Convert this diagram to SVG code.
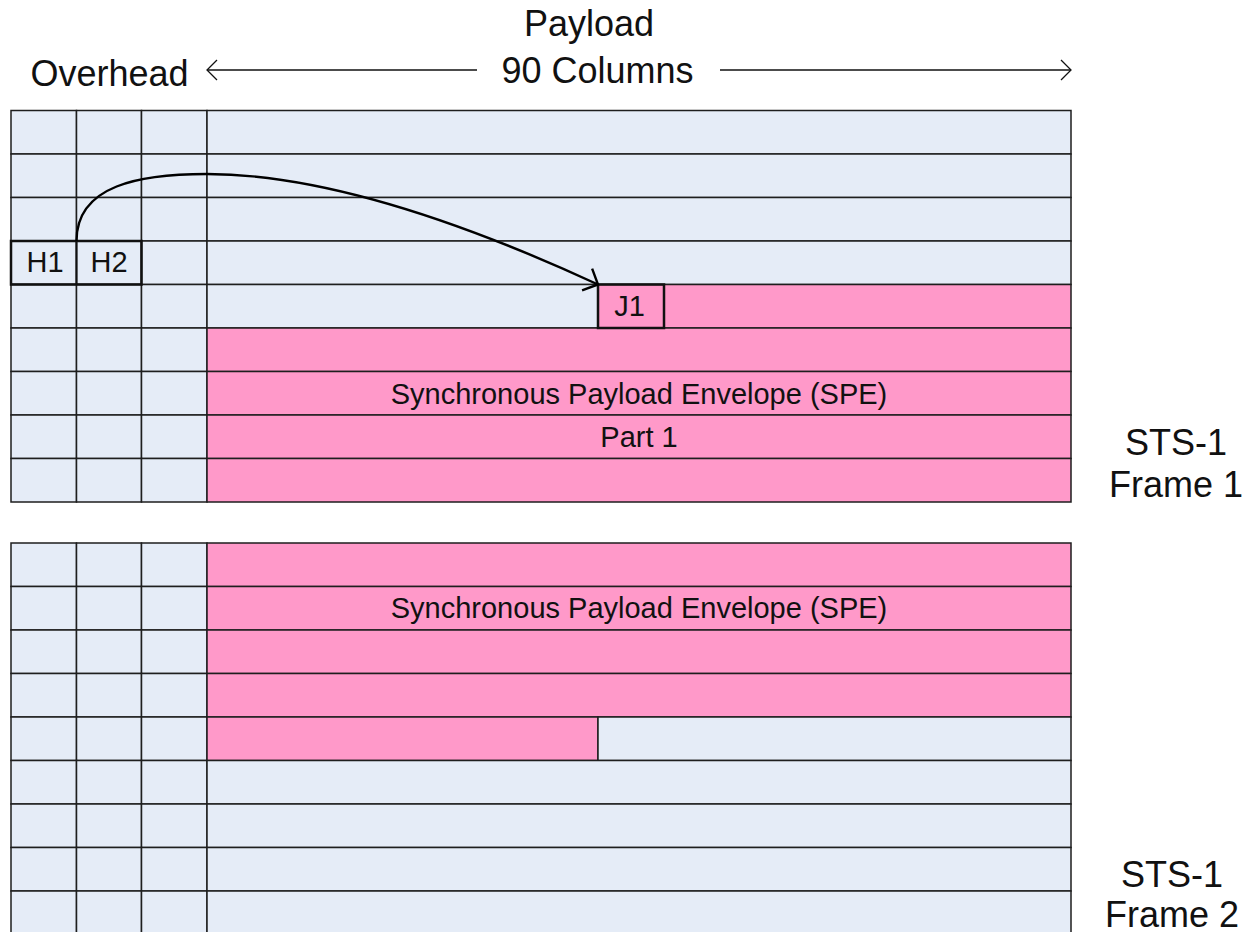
<svg xmlns="http://www.w3.org/2000/svg" width="1246" height="932" viewBox="0 0 1246 932">
  <style>
    .oh { fill: #E5ECF7; stroke: #1e1e1e; stroke-width: 1.5; }
    .pl { fill: #E5ECF7; stroke: #1e1e1e; stroke-width: 1.5; }
    .spe { fill: #FF99C9; stroke: #1e1e1e; stroke-width: 1.5; }
    .box { fill: none; stroke: #111; stroke-width: 2.5; }
    .txt { font-family: "Liberation Sans", Arial, sans-serif; fill: #111; }
    .small { font-size: 29px; }
    .big { font-size: 36px; }
    .mid { text-anchor: middle; }
    .thin { fill: none; stroke: #111; stroke-width: 1.3; }
    .ptr { fill: none; stroke: #000; stroke-width: 2.4; }
  </style>
  <defs>
    <marker id="openHead" viewBox="-14 -14 16 28" markerWidth="16" markerHeight="28" refX="0" refY="0" orient="auto" markerUnits="userSpaceOnUse">
      <path d="M -12 -12 L 0 0 L -12 12" fill="none" stroke="#000" stroke-width="2.4"/>
    </marker>
    <marker id="thinHead" viewBox="-12 -12 14 24" markerWidth="14" markerHeight="24" refX="0" refY="0" orient="auto" markerUnits="userSpaceOnUse">
      <path d="M -10 -10 L 0 0 L -10 10" fill="none" stroke="#111" stroke-width="1.3"/>
    </marker>
  </defs>

  <rect width="1246" height="932" fill="#fff"/>

  <!-- STS-1 frame 1: 3 overhead columns + payload, 9 rows -->
  <g id="frame1">
    <g id="frame1-overhead">
      <rect class="oh" x="11" y="110.5" width="65.5" height="43.5"/><rect class="oh" x="76.5" y="110.5" width="65" height="43.5"/><rect class="oh" x="141.5" y="110.5" width="65.5" height="43.5"/>
      <rect class="oh" x="11" y="154" width="65.5" height="43.5"/><rect class="oh" x="76.5" y="154" width="65" height="43.5"/><rect class="oh" x="141.5" y="154" width="65.5" height="43.5"/>
      <rect class="oh" x="11" y="197.5" width="65.5" height="43.5"/><rect class="oh" x="76.5" y="197.5" width="65" height="43.5"/><rect class="oh" x="141.5" y="197.5" width="65.5" height="43.5"/>
      <rect class="oh" x="11" y="241" width="65.5" height="43.5"/><rect class="oh" x="76.5" y="241" width="65" height="43.5"/><rect class="oh" x="141.5" y="241" width="65.5" height="43.5"/>
      <rect class="oh" x="11" y="284.5" width="65.5" height="43.5"/><rect class="oh" x="76.5" y="284.5" width="65" height="43.5"/><rect class="oh" x="141.5" y="284.5" width="65.5" height="43.5"/>
      <rect class="oh" x="11" y="328" width="65.5" height="43.5"/><rect class="oh" x="76.5" y="328" width="65" height="43.5"/><rect class="oh" x="141.5" y="328" width="65.5" height="43.5"/>
      <rect class="oh" x="11" y="371.5" width="65.5" height="43.5"/><rect class="oh" x="76.5" y="371.5" width="65" height="43.5"/><rect class="oh" x="141.5" y="371.5" width="65.5" height="43.5"/>
      <rect class="oh" x="11" y="415" width="65.5" height="43.5"/><rect class="oh" x="76.5" y="415" width="65" height="43.5"/><rect class="oh" x="141.5" y="415" width="65.5" height="43.5"/>
      <rect class="oh" x="11" y="458.5" width="65.5" height="43.5"/><rect class="oh" x="76.5" y="458.5" width="65" height="43.5"/><rect class="oh" x="141.5" y="458.5" width="65.5" height="43.5"/>
    </g>
    <g id="frame1-payload">
      <rect class="pl" x="207" y="110.5" width="864" height="43.5"/>
      <rect class="pl" x="207" y="154" width="864" height="43.5"/>
      <rect class="pl" x="207" y="197.5" width="864" height="43.5"/>
      <rect class="pl" x="207" y="241" width="864" height="43.5"/>
      <rect class="pl" x="207" y="284.5" width="391" height="43.5"/>
      <rect class="spe" x="598" y="284.5" width="473" height="43.5"/>
      <rect class="spe" x="207" y="328" width="864" height="43.5"/>
      <rect class="spe" x="207" y="371.5" width="864" height="43.5"/>
      <rect class="spe" x="207" y="415" width="864" height="43.5"/>
      <rect class="spe" x="207" y="458.5" width="864" height="43.5"/>
      <text class="txt small mid" x="639" y="403.5">Synchronous Payload Envelope (SPE)</text>
      <text class="txt small mid" x="639" y="447">Part 1</text>
    </g>
  </g>

  <!-- pointer bytes H1/H2 -->
  <g id="h1h2">
    <rect class="box" x="11" y="241" width="130.5" height="43.5"/>
    <line x1="76.5" y1="241" x2="76.5" y2="284.5" stroke="#111" stroke-width="2"/>
    <text class="txt small mid" x="45" y="272">H1</text>
    <text class="txt small mid" x="109" y="272">H2</text>
  </g>

  <!-- J1 byte, start of the SPE -->
  <g id="j1">
    <rect class="box" x="598" y="284.5" width="66" height="43.5"/>
    <text class="txt small mid" x="629.5" y="316">J1</text>
  </g>

  <!-- STS-1 frame 2 -->
  <g id="frame2">
    <g id="frame2-overhead">
      <rect class="oh" x="11" y="543" width="65.5" height="43.5"/><rect class="oh" x="76.5" y="543" width="65" height="43.5"/><rect class="oh" x="141.5" y="543" width="65.5" height="43.5"/>
      <rect class="oh" x="11" y="586.5" width="65.5" height="43.5"/><rect class="oh" x="76.5" y="586.5" width="65" height="43.5"/><rect class="oh" x="141.5" y="586.5" width="65.5" height="43.5"/>
      <rect class="oh" x="11" y="630" width="65.5" height="43.5"/><rect class="oh" x="76.5" y="630" width="65" height="43.5"/><rect class="oh" x="141.5" y="630" width="65.5" height="43.5"/>
      <rect class="oh" x="11" y="673.5" width="65.5" height="43.5"/><rect class="oh" x="76.5" y="673.5" width="65" height="43.5"/><rect class="oh" x="141.5" y="673.5" width="65.5" height="43.5"/>
      <rect class="oh" x="11" y="717" width="65.5" height="43.5"/><rect class="oh" x="76.5" y="717" width="65" height="43.5"/><rect class="oh" x="141.5" y="717" width="65.5" height="43.5"/>
      <rect class="oh" x="11" y="760.5" width="65.5" height="43.5"/><rect class="oh" x="76.5" y="760.5" width="65" height="43.5"/><rect class="oh" x="141.5" y="760.5" width="65.5" height="43.5"/>
      <rect class="oh" x="11" y="804" width="65.5" height="43.5"/><rect class="oh" x="76.5" y="804" width="65" height="43.5"/><rect class="oh" x="141.5" y="804" width="65.5" height="43.5"/>
      <rect class="oh" x="11" y="847.5" width="65.5" height="43.5"/><rect class="oh" x="76.5" y="847.5" width="65" height="43.5"/><rect class="oh" x="141.5" y="847.5" width="65.5" height="43.5"/>
      <rect class="oh" x="11" y="891" width="65.5" height="43.5"/><rect class="oh" x="76.5" y="891" width="65" height="43.5"/><rect class="oh" x="141.5" y="891" width="65.5" height="43.5"/>
    </g>
    <g id="frame2-payload">
      <rect class="spe" x="207" y="543" width="864" height="43.5"/>
      <rect class="spe" x="207" y="586.5" width="864" height="43.5"/>
      <rect class="spe" x="207" y="630" width="864" height="43.5"/>
      <rect class="spe" x="207" y="673.5" width="864" height="43.5"/>
      <rect class="spe" x="207" y="717" width="391" height="43.5"/>
      <rect class="pl" x="598" y="717" width="473" height="43.5"/>
      <rect class="pl" x="207" y="760.5" width="864" height="43.5"/>
      <rect class="pl" x="207" y="804" width="864" height="43.5"/>
      <rect class="pl" x="207" y="847.5" width="864" height="43.5"/>
      <rect class="pl" x="207" y="891" width="864" height="43.5"/>
      <text class="txt small mid" x="639" y="618">Synchronous Payload Envelope (SPE)</text>
    </g>
  </g>

  <!-- header and side labels -->
  <g id="labels">
    <text class="txt big" x="30.5" y="85.5">Overhead</text>
    <text class="txt big mid" x="589" y="36">Payload</text>
    <text class="txt big mid" x="597.5" y="82.5">90 Columns</text>
    <text class="txt big mid" x="1176" y="455">STS-1</text>
    <text class="txt big mid" x="1176" y="497">Frame 1</text>
    <text class="txt big mid" x="1172" y="887">STS-1</text>
    <text class="txt big mid" x="1172" y="927">Frame 2</text>
  </g>

  <!-- connectors -->
  <g id="connectors">
    <line class="thin" x1="477" y1="70" x2="207" y2="70" marker-end="url(#thinHead)"/>
    <line class="thin" x1="720" y1="70" x2="1071" y2="70" marker-end="url(#thinHead)"/>
    <path class="ptr" d="M 76.5 241 C 76.5 185 140 174 207 174 C 330 174 480 230 598 284.5" marker-end="url(#openHead)"/>
  </g>
</svg>
